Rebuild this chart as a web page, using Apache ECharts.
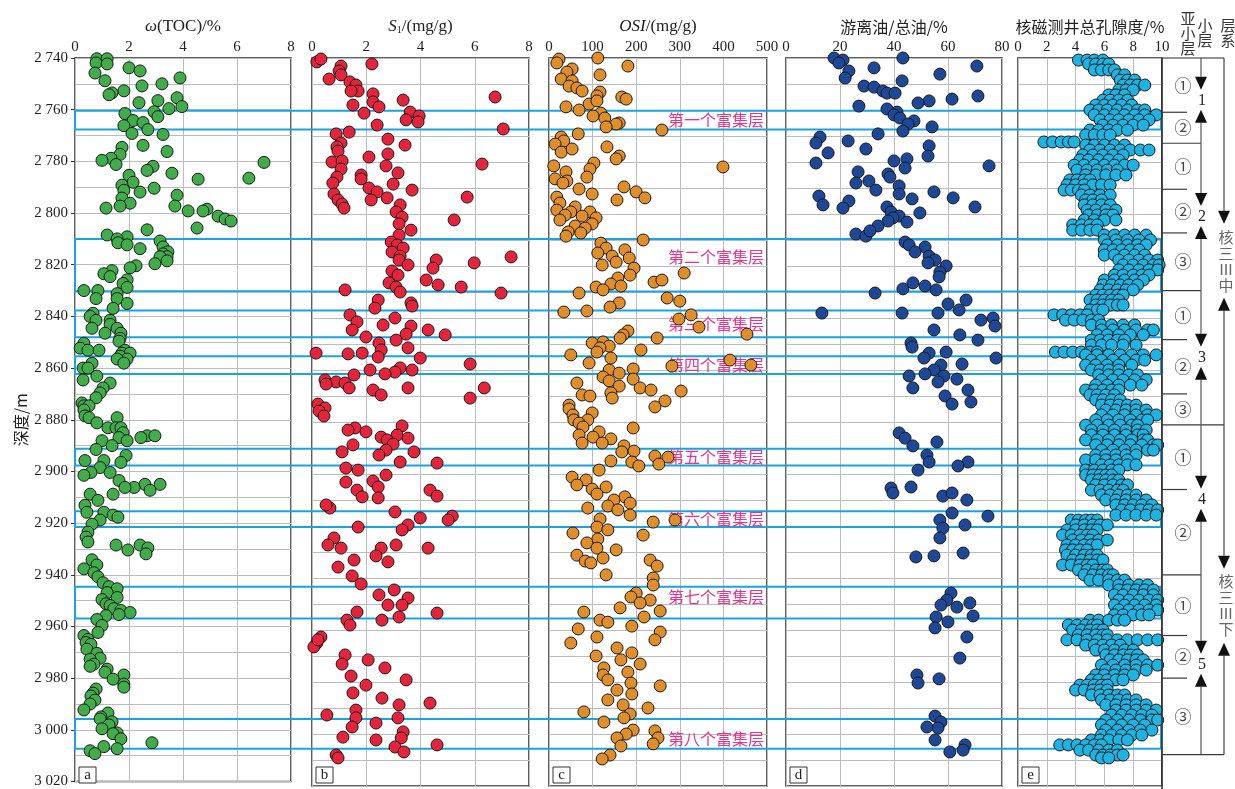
<!DOCTYPE html>
<html>
<head>
<meta charset="utf-8">
<script src="https://cdn.jsdelivr.net/npm/echarts@6/dist/echarts.min.js"></script>
<style>
html,body{margin:0;padding:0;background:#fff;}
#chart{width:1235px;height:789px;}
</style>
</head>
<body>
<div id="chart"></div>
<script>
// ---- well log data: [value, depth(m)] ----
const tocPoints = [[0.81,2740.3],[1.19,2740.3],[0.78,2741.9],[1.19,2742.3],[2.0,2743.8],[2.41,2745.0],[0.74,2745.8],[3.89,2747.7],[1.11,2748.8],[3.22,2750.0],[2.48,2750.8],[1.81,2752.7],[1.37,2753.5],[1.26,2754.2],[3.78,2755.4],[3.07,2756.5],[2.37,2757.3],[3.96,2758.8],[3.48,2759.6],[2.93,2760.8],[1.85,2761.5],[3.07,2762.7],[2.15,2764.2],[2.52,2765.0],[1.81,2766.2],[2.70,2767.7],[2.11,2769.2],[3.26,2769.6],[2.52,2773.8],[1.74,2774.6],[3.41,2776.2],[1.67,2777.3],[1.33,2778.8],[1.0,2779.6],[7.0,2780.4],[1.52,2781.2],[2.89,2781.9],[2.67,2783.5],[3.59,2784.6],[2.0,2785.4],[4.56,2786.9],[6.44,2786.5],[2.15,2788.1],[1.74,2789.2],[2.93,2790.4],[1.81,2791.2],[2.41,2791.9],[3.78,2793.1],[1.74,2794.2],
[2.04,2796.2],[1.67,2797.3],[3.70,2797.3],[1.15,2798.1],[4.89,2798.5],[4.19,2799.2],[4.74,2799.2],[5.30,2801.2],[5.56,2802.3],[5.78,2803.1],[4.52,2805.8],[2.67,2806.5],[1.19,2808.5],[1.93,2809.2],[1.56,2810.0],[3.15,2810.8],[1.59,2811.5],[1.93,2812.3],[3.26,2813.1],[2.41,2813.8],[3.44,2815.0],[3.26,2815.8],[3.41,2816.9],[3.15,2816.9],[3.41,2818.5],[2.96,2819.6],[2.26,2820.4],[2.04,2821.2],[1.37,2822.3],[1.07,2823.5],[1.30,2824.6],[1.93,2825.8],[1.78,2827.3],[1.93,2828.8],[0.33,2830.0],[0.85,2830.0],[1.56,2831.2],[0.78,2833.1],[1.56,2833.1],[1.93,2835.0],[1.41,2836.9],[0.67,2838.8],[0.56,2840.0],[0.78,2841.5],[1.30,2841.5],[1.30,2843.1],[0.63,2844.6],[1.56,2844.6],[1.70,2846.5],[1.11,2846.5],[1.67,2848.5],[1.63,2849.6],[0.33,2850.4],[0.19,2852.3],[0.48,2853.1],[0.89,2853.1],[1.85,2853.1],[1.74,2854.2],[2.04,2854.2],[1.67,2855.4],[1.93,2856.5],[1.56,2856.5],[0.63,2858.1],[1.81,2858.1],[0.30,2860.0],[0.48,2860.0],[0.81,2863.1],[0.30,2864.6],[1.30,2865.8],[1.04,2867.7],[0.93,2869.6],[0.78,2871.5],[0.26,2873.5],[0.33,2874.6],[0.52,2874.6],[0.33,2876.2],[0.37,2878.5],[0.52,2879.2],[1.56,2879.2],[0.81,2881.2],[1.22,2883.1],[1.52,2883.1],[1.70,2883.1],[1.78,2885.0],[2.67,2886.2],[2.96,2886.2],[2.44,2886.9],[1.63,2886.9],[1.93,2888.1],[1.0,2888.1],[1.37,2890.0],[0.78,2891.5],[1.89,2893.8],[0.37,2895.8],[1.07,2895.8],[1.70,2896.5],[0.93,2898.5],[0.59,2900.4],[1.30,2900.4],[0.33,2901.5],[1.63,2903.5],[3.15,2905.0],[2.59,2905.0],[2.19,2906.2],[1.85,2906.2],[2.78,2907.3],[0.56,2908.8],[1.41,2908.8],[0.85,2911.2],[0.37,2913.1],[1.07,2915.8],[0.44,2915.8],[1.41,2916.9],[1.59,2917.7],[0.93,2918.8],[0.63,2920.4],[0.48,2923.5],[0.41,2925.4],[0.48,2927.3],[1.52,2928.5],[2.41,2928.5],[2.70,2929.6],[1.96,2930.4],[2.63,2931.9],[0.63,2934.2],[0.81,2936.2],[0.33,2937.7],[0.70,2939.2],[0.85,2940.8],[1.04,2943.1],[1.26,2944.6],[1.56,2945.4],[1.19,2946.9],
[1.56,2948.8],[1.0,2949.6],[1.15,2951.2],[1.30,2951.9],[1.44,2953.1],[1.70,2953.8],[2.04,2954.6],[1.63,2955.4],[1.15,2955.8],[0.81,2957.3],[1.0,2959.6],[0.85,2962.3],[0.33,2963.5],[0.48,2965.0],[0.41,2966.2],[0.59,2966.9],[0.44,2968.8],[0.81,2970.4],[0.93,2972.3],[0.56,2972.7],[0.70,2974.6],[0.56,2975.4],[1.19,2976.5],[1.11,2977.7],[1.81,2978.8],[1.41,2980.4],[1.81,2982.3],[1.81,2983.5],[0.78,2984.2],[0.67,2985.8],[0.59,2986.9],[0.74,2988.5],[0.56,2990.0],[0.33,2992.3],[1.22,2993.5],[0.96,2995.0],[0.93,2995.8],[1.37,2996.9],[1.26,2998.1],[1.0,2999.6],[1.56,3001.2],[1.41,3001.5],[1.70,3003.5],[2.85,3005.0],[1.07,3006.5],[1.56,3007.3],[0.56,3008.1],[0.74,3009.2]];

const s1Points = [[0.18,2741.5],[0.33,2740.4],[1.07,2743.1],[2.21,2742.3],[1.0,2745.0],[1.07,2746.5],[0.63,2748.1],[1.40,2749.2],[1.62,2750.4],[1.70,2752.7],[1.44,2752.7],[2.25,2753.8],[2.25,2756.9],[3.36,2756.2],[6.75,2755.0],[1.51,2758.1],[2.47,2758.8],[3.62,2760.8],[1.92,2761.2],[3.95,2762.3],[3.47,2763.8],[3.91,2764.6],[2.40,2765.8],[7.05,2767.3],[1.37,2768.5],[0.89,2769.2],[2.80,2771.2],[1.07,2772.7],[3.43,2773.5],[0.92,2774.2],[0.96,2775.8],[2.10,2778.1],[2.80,2776.9],[0.74,2780.0],[1.11,2779.6],[6.27,2780.8],[2.73,2781.5],[1.07,2782.7],[3.17,2784.2],[1.81,2785.0],[1.81,2786.5],[0.92,2785.8],[0.77,2788.1],[2.99,2788.5],[2.10,2790.0],[3.69,2790.8],[2.40,2791.5],[0.81,2792.3],[5.72,2793.5],[2.77,2793.8],[0.96,2794.6],
[1.11,2796.2],[1.18,2797.7],[2.18,2794.6],[3.25,2796.5],[3.10,2799.2],[3.32,2801.2],[5.24,2802.3],[3.21,2803.8],[3.65,2806.2],[3.21,2808.1],[2.92,2810.8],[3.14,2811.9],[3.36,2813.1],[2.95,2814.6],[3.25,2816.2],[7.34,2816.5],[3.21,2817.7],[4.58,2817.7],[5.98,2818.8],[3.54,2819.6],[4.46,2820.8],[2.95,2821.9],[3.17,2823.5],[4.21,2825.4],[2.84,2826.5],[4.65,2827.3],[5.50,2828.1],[3.10,2828.1],[1.22,2829.2],[3.25,2830.0],[6.97,2830.4],[2.44,2833.1],[3.65,2834.2],[2.32,2836.2],[3.69,2835.4],[1.40,2838.8],[3.06,2840.0],[1.66,2841.5],[2.62,2842.7],[3.65,2843.1],[1.48,2844.6],[4.28,2844.6],[3.47,2846.2],[4.91,2846.5],[1.99,2847.3],[3.10,2848.5],[2.47,2849.6],[0.15,2853.5],[2.55,2852.3],[1.33,2853.8],[1.85,2853.5],[3.54,2851.5],[2.44,2855.0],[3.99,2855.4],[5.83,2857.7],[3.25,2859.2],[3.06,2860.8],[2.14,2860.0],[3.69,2860.0],[2.69,2861.5],[1.55,2861.9],[0.48,2863.8],[0.89,2864.6],[1.22,2865.0],[0.52,2865.4],[6.35,2866.9],[3.54,2866.9],[1.37,2866.9],[5.83,2870.8],[2.25,2867.7],[2.55,2869.6],[0.22,2873.1],[0.48,2874.6],[0.26,2875.8],[0.44,2877.7],[1.59,2882.3],[1.99,2883.8],[1.33,2883.1],[3.32,2881.5],[3.14,2885.0],[2.55,2885.8],[3.54,2886.2],[2.77,2886.9],[1.51,2888.8],[2.99,2888.5],[2.73,2890.8],[3.76,2891.5],[1.11,2891.5],[2.47,2892.7],[4.61,2895.8],[3.25,2895.4],[1.25,2897.7],[1.70,2898.5],[2.73,2900.4],[1.25,2903.1],[2.25,2902.7],[2.44,2905.0],[1.66,2906.2],[4.35,2906.2],[4.61,2908.5],[1.85,2908.8],[2.44,2909.2],[0.66,2913.1],[0.52,2911.9],[3.06,2914.6],[3.99,2916.9],[5.17,2916.2],[5.02,2917.7],[3.54,2919.6],[3.32,2921.5],[1.70,2920.4],[0.81,2924.6],[0.59,2927.3],[1.07,2928.5],[2.55,2928.5],[3.10,2927.3],[4.28,2928.5],[2.36,2931.5],[1.55,2933.1],[2.80,2933.8],[0.96,2935.8],[1.48,2939.2],[1.81,2942.3],[3.03,2944.6],[2.47,2946.5],[3.54,2947.7],[2.80,2950.4],[3.32,2950.4],[4.61,2953.5],[1.66,2953.1],[3.21,2955.0],[2.58,2956.2],[1.29,2956.2],[1.40,2958.1],[0.33,2962.7],[0.18,2965.0],[0.07,2966.5],[0.22,2963.8],[1.22,2969.6],[2.07,2971.5],[1.11,2973.1],[2.69,2974.6],[1.44,2977.7],[3.47,2979.2],[1.99,2981.2],[1.51,2984.2],[2.58,2986.2],[3.21,2988.8],[1.62,2990.8],[4.35,2988.1],[0.55,2992.7],[1.62,2993.8],[3.17,2993.8],[2.36,2995.8],[1.48,2997.3],[3.36,2999.2],[1.14,3001.2],[3.29,3001.5],[2.36,3002.3],[4.61,3004.2],[3.06,3005.0],[3.39,3006.9],[0.89,3008.1],[0.96,3009.2]];

const osiPoints = [[23,2740.4],[112,2740.0],[18,2741.9],[181,2743.1],[53,2744.2],[41,2745.4],[117,2746.5],[28,2748.1],[53,2748.8],[46,2750.8],[64,2751.5],[76,2752.7],[117,2753.1],[110,2754.6],[167,2755.0],[177,2755.8],[92,2757.7],[110,2756.5],[39,2758.8],[69,2760.0],[119,2761.2],[101,2762.3],[128,2763.1],[161,2765.0],[154,2765.4],[131,2766.5],[259,2767.7],[67,2769.2],[28,2770.4],[34,2771.9],[14,2773.1],[28,2776.2],[53,2775.0],[133,2774.2],[161,2777.7],[154,2778.8],[103,2780.4],[399,2781.9],[11,2781.5],[39,2783.8],[94,2782.7],[87,2785.8],[14,2786.5],[41,2787.3],[32,2788.1],[172,2789.6],[200,2791.5],[69,2790.4],[99,2792.3],[18,2793.5],[220,2793.8],[156,2794.6],
[25,2795.8],[60,2797.3],[18,2798.5],[50,2799.2],[94,2799.2],[37,2800.4],[76,2800.8],[108,2801.5],[25,2802.3],[99,2803.8],[60,2804.6],[83,2805.4],[44,2806.9],[73,2807.3],[39,2808.5],[119,2811.2],[216,2810.0],[131,2813.1],[174,2813.8],[112,2815.0],[145,2816.2],[184,2816.9],[154,2818.5],[122,2819.6],[195,2820.8],[310,2822.7],[186,2823.5],[158,2824.6],
[241,2826.2],[259,2825.4],[142,2826.9],[165,2827.7],[108,2828.1],[124,2829.2],[69,2830.4],[271,2832.3],[300,2833.5],[161,2834.2],[140,2835.8],[87,2837.3],[34,2837.7],[326,2838.8],[298,2840.4],[344,2843.5],[454,2846.2],[181,2845.0],[170,2846.5],[163,2847.7],[248,2847.7],[124,2849.2],[99,2849.6],[138,2850.8],[117,2851.5],[211,2852.3],[110,2853.1],[50,2854.2],[142,2855.4],[415,2856.2],[92,2857.3],[463,2858.1],[282,2858.5],[193,2859.6],[138,2860.0],[161,2861.2],[124,2862.7],[193,2863.5],[138,2864.2],[64,2865.0],[161,2866.2],[209,2866.9],[234,2867.7],[303,2868.1],[142,2868.8],[76,2869.6],[94,2870.0],[145,2870.8],[266,2871.9],[243,2874.2],[46,2873.5],[46,2875.0],[99,2876.5],[55,2877.3],[57,2879.2],[89,2879.2],[69,2880.4],[78,2881.9],[193,2882.3],[115,2883.8],[69,2885.0],[101,2885.8],[142,2886.5],[122,2888.1],[76,2888.1],[172,2889.2],[195,2891.2],[167,2891.5],[243,2893.1],[273,2893.5],[142,2895.0],[190,2895.4],[252,2896.2],[206,2896.9],[115,2898.5],[53,2901.2],[85,2902.3],
[64,2904.2],[99,2905.8],[131,2905.0],[110,2907.7],[174,2908.8],[149,2910.0],[186,2911.2],[135,2912.3],[89,2913.1],[158,2913.8],[186,2915.8],[117,2917.3],[289,2917.7],[239,2918.5],[110,2920.4],[135,2921.5],[55,2922.7],[216,2923.5],[112,2925.0],[87,2926.5],[110,2928.5],[154,2929.2],[64,2931.2],[124,2932.3],[83,2933.5],[232,2933.1],[96,2934.2],[248,2935.4],[131,2938.8],[239,2940.0],[239,2942.7],[200,2945.8],[188,2947.3],[232,2948.5],[209,2949.6],[163,2951.5],[255,2952.7],[80,2953.1],[218,2955.0],[117,2956.2],[135,2957.0],[190,2958.5],[67,2959.6],[255,2960.8],[243,2963.8],[110,2962.7],[50,2965.0],[156,2966.9],[190,2968.8],[108,2970.0],[165,2971.5],[209,2973.1],[126,2974.6],[181,2976.2],[124,2977.3],[135,2979.2],[188,2980.4],[255,2981.5],[156,2983.1],[190,2984.6],[135,2986.9],[170,2988.8],[227,2990.0],[186,2992.3],[172,2993.8],[80,2991.5],[126,2995.4],[193,2998.5],[243,2998.8],[177,3000.0],[156,3001.5],[250,3001.5],[239,3003.8],[165,3004.6],[140,3008.1],[122,3009.6]];

const freeOilPoints = [[17.8,2740.0],[21.1,2740.8],[43.3,2740.0],[19.6,2741.9],[23.3,2745.0],[21.9,2747.7],[32.6,2743.8],[70.7,2743.1],[57.0,2746.2],[43.0,2748.8],[28.9,2750.8],[32.6,2751.2],[35.9,2752.7],[37.4,2753.5],[40.4,2753.5],[71.1,2754.6],[61.5,2755.8],[53.0,2756.5],[48.9,2757.3],[27.0,2758.5],[37.4,2759.6],[41.1,2760.8],[40.0,2761.9],[42.2,2763.1],[47.4,2764.2],[45.2,2765.4],[54.1,2766.5],[43.3,2768.1],[12.6,2770.4],[11.1,2772.7],[34.1,2769.2],[23.0,2771.9],[53.0,2773.8],[29.6,2775.0],[15.6,2776.5],[52.6,2777.7],[44.8,2778.8],[40.0,2779.6],[11.1,2780.4],[75.2,2781.5],[44.1,2782.3],[26.7,2783.8],[37.8,2784.6],[38.5,2785.8],[30.7,2787.3],[25.9,2788.1],[41.9,2789.2],[33.3,2790.8],[54.8,2791.5],[41.9,2792.3],[12.2,2793.1],[61.9,2793.8],[46.7,2794.2],[23.3,2795.0],
[13.7,2796.5],[21.1,2797.7],[37.4,2797.3],[70.0,2797.3],[38.9,2799.2],[41.9,2800.8],[49.6,2799.6],[39.6,2801.5],[37.8,2802.7],[44.8,2803.1],[34.1,2804.6],[25.9,2807.7],[29.6,2808.5],[31.1,2806.5],[44.1,2810.8],[45.6,2811.9],[51.5,2812.7],[47.8,2814.6],[53.0,2816.2],[55.2,2817.7],[52.6,2818.8],[59.3,2820.0],[57.0,2822.3],[56.7,2824.2],[47.0,2826.5],[51.5,2827.7],[43.3,2828.8],[55.6,2829.2],[33.0,2830.4],[66.7,2833.1],[60.0,2834.6],[64.1,2836.9],[56.3,2838.1],[13.3,2838.1],[43.0,2838.1],[76.7,2840.0],[77.4,2843.1],[72.2,2840.8],[54.8,2844.6],[64.4,2846.5],[71.1,2848.5],[46.3,2849.6],[46.7,2851.2],[59.3,2853.1],[53.0,2853.5],[77.8,2855.4],[51.1,2855.4],[65.2,2857.7],[57.4,2858.1],[54.8,2860.0],[51.5,2861.5],[58.5,2862.3],[63.3,2863.5],[56.3,2864.6],[45.6,2862.3],[47.0,2866.9],[67.4,2867.7],[58.9,2870.0],[68.5,2872.3],[61.5,2873.1],[41.9,2884.2],[44.1,2886.2],[55.9,2887.7],[47.0,2889.2],[52.2,2892.7],[67.4,2895.4],[53.0,2895.4],[63.7,2896.9],[48.9,2898.5],[38.9,2905.4],[39.6,2907.3],[46.3,2905.0],[58.1,2908.5],[61.5,2907.3],[67.0,2910.0],[61.5,2915.0],[74.8,2916.2],[57.0,2917.7],[66.3,2919.6],[58.1,2920.8],[57.0,2924.6],[48.1,2931.9],[54.8,2931.5],[65.6,2930.4],[61.1,2945.8],[59.6,2948.5],[63.3,2951.2],[57.4,2950.4],[68.1,2949.6],[55.6,2955.0],[60.0,2956.9],[69.3,2954.6],[55.2,2959.2],[67.0,2962.7],[64.4,2970.8],[48.5,2977.3],[56.7,2978.8],[48.9,2980.4],[55.2,2993.1],[57.4,2995.4],[56.3,2997.7],[52.2,2997.3],[55.2,3002.3],[66.3,3004.2],[65.6,3006.2],[60.7,3006.9]];

// NMR total porosity: [depth, readings at that depth]
const porosityRows = [[2740.8,[4.2,4.8,5.3,5.9]],[2742.3,[4.9,5.4,5.9,6.3]],[2744.6,[5.3,5.8,6.3,6.7]],[2746.5,[6.9,7.4]],[2748.5,[7.1,7.6,8.1]],[2750.4,[7.3,7.8,8.3,8.8]],[2752.3,[7.0,7.5,8.0]],[2754.2,[6.3,6.8,7.4]],[2756.2,[5.9,6.4,7.0,7.6]],[2758.1,[5.4,6.0,6.6,7.2,7.9]],[2760.0,[5.0,5.6,6.2,6.9,7.6,8.3,8.8]],[2761.9,[5.3,6.0,6.7,7.4,8.1,8.8,9.6]],[2763.8,[5.7,6.4,7.0,7.7,8.4,9.1]],[2765.8,[5.9,6.6,7.3,8.0,8.7]],[2767.7,[5.0,5.6,6.3,6.9,7.6]],[2769.6,[4.7,5.3,5.9,6.4]],[2772.3,[1.8,2.4,3.0,3.5,3.9]],[2773.5,[4.7,5.3,6.0,6.7,7.4]],[2775.4,[5.0,5.7,6.4,7.1,7.8,8.5,9.1]],[2777.3,[4.5,5.2,5.9,6.6,7.3]],[2779.2,[4.3,4.9,5.6,6.3,7.0]],[2781.2,[3.9,4.6,5.3,6.0,6.7,7.4,8.0]],[2783.1,[4.1,4.8,5.5,6.2,6.9]],[2785.0,[4.7,5.4,6.1,6.8,7.5]],[2786.9,[3.6,4.1,4.6,5.0]],[2788.8,[3.4,4.0,4.6,5.2,5.8,6.4]],[2790.8,[3.2,3.7,4.2,4.6]],[2792.7,[4.4,5.0,5.7,6.4]],[2794.6,[4.7,5.2,5.8]],[2796.5,[4.6,5.2,5.8,6.4]],[2798.5,[4.8,5.4,6.1,6.8]],[2800.4,[4.9,5.5,6.1,6.6]],[2802.3,[4.6,5.3,6.0,6.8]],[2804.2,[3.8,4.4,5.0,5.5]],[2806.2,[3.8,4.4,5.0,5.5]],[2808.1,[6.0,6.7,7.4,8.1,8.9]],[2810.0,[6.0,6.8,7.6,8.4,9.2]],[2811.9,[6.2,6.9,7.6,8.3,8.9]],[2813.8,[6.0,6.6,7.2,7.8,8.4]],[2815.8,[6.0,6.7,7.4,8.1,8.8]],[2817.7,[7.0,7.7,8.4,9.1,9.7]],[2819.6,[7.3,8.0,8.7,9.4,9.8]],[2821.5,[7.0,7.7,8.4,9.1,9.7]],[2823.5,[6.7,7.3,8.0,8.6,9.1]],[2825.4,[6.0,6.7,7.4,8.1,8.7]],[2827.3,[5.9,6.5,7.1,7.7,8.3]],[2829.2,[5.7,6.3,6.9,7.5,8.0]],[2831.2,[5.4,5.9,6.4,6.9,7.3]],[2833.1,[5.0,5.5,6.0,6.5,7.0]],[2835.0,[5.4,5.9,6.4,6.9,7.3]],[2836.9,[5.0,5.5,5.9]],[2838.8,[2.5,3.1,3.7,4.3,4.8]],[2840.8,[3.3,3.9,4.5,5.1,5.6]],[2842.7,[5.1,5.8,6.5,7.3,8.1]],[2844.6,[5.8,6.6,7.4,8.2,9.0,9.4]],[2846.5,[5.5,6.2,7.0,7.8,8.7]],[2848.5,[5.1,5.7,6.3,6.9,7.4]],[2850.4,[5.1,5.8,6.5,7.3,8.2]],[2853.1,[2.6,3.2,3.8,4.4,5.0,5.5]],[2854.2,[4.7,5.5,6.3,7.1,7.9,8.7,9.6]],[2856.2,[5.1,5.8,6.6,7.4,8.2,8.8]],[2858.1,[4.7,5.4,6.2,7.0,7.9]],[2860.0,[5.1,5.7,6.3,7.0]],[2861.9,[5.6,6.3,7.0,7.7,8.3]],[2863.8,[5.8,6.6,7.3,8.1,8.9]],[2865.8,[5.4,6.2,7.0,7.8,8.6]],[2867.7,[4.7,5.3,5.9,6.5,7.0]],[2869.6,[5.0,5.5,6.1,6.7]],[2871.5,[5.4,5.9,6.5,7.1]],[2873.5,[5.8,6.4,7.0,7.6,8.2]],[2875.4,[6.1,6.8,7.5,8.2,8.9]],[2877.3,[5.8,6.6,7.4,8.2,9.0,9.6]],[2879.2,[5.4,6.2,7.0,7.8,8.6,9.0]],[2881.2,[4.7,5.5,6.3,7.1,7.9,8.3]],[2883.1,[5.1,5.9,6.7,7.5,8.3,8.9]],[2885.0,[5.1,5.9,6.7,7.5,8.3,8.7]],[2886.9,[4.7,5.5,6.3,7.1,7.9,8.7,9.0]],[2888.8,[5.4,6.2,7.0,7.8,8.6,9.4,9.7]],[2890.8,[5.8,6.6,7.4,8.2,9.0,9.4]],[2892.7,[5.4,6.1,6.8,7.5,8.2]],[2894.6,[4.7,5.4,6.1,6.8,7.6]],[2896.5,[5.8,6.4,7.0,7.6,8.2]],[2898.5,[4.7,5.3,5.9,6.5,7.0]],[2900.4,[4.7,5.2,5.7,6.1,6.5]],[2902.3,[5.1,5.6,6.1,6.6,7.0]],[2904.2,[5.4,6.0,6.6,7.2,7.6]],[2906.2,[5.1,5.7,6.3,6.9,7.3]],[2908.1,[5.8,6.4,7.0,7.6,8.2]],[2910.0,[6.1,6.8,7.5,8.2,8.9]],[2911.9,[6.8,7.4,8.0,8.6,9.3]],[2913.8,[7.2,7.8,8.5,9.1,9.7]],[2915.8,[6.8,7.5,8.2,8.9,9.6]],[2917.7,[3.7,4.2,4.7,5.1,5.5]],[2919.6,[4.0,4.6,5.2,5.7,6.2]],[2921.5,[3.4,4.0,4.6,5.1,5.5]],[2923.5,[3.1,3.7,4.3,4.8,5.2]],[2925.4,[3.8,4.4,5.0,5.6,6.2]],[2927.3,[3.4,4.0,4.6,5.1,5.5]],[2929.2,[3.3,3.8,4.3,4.8]],[2931.2,[3.4,4.0,4.6,5.1,5.5]],[2933.1,[3.8,4.4,5.0,5.5,5.9]],[2935.0,[3.1,3.7,4.3,4.8,5.2]],[2936.9,[4.2,4.8,5.4,5.9,6.2]],[2938.8,[4.6,5.2,5.8,6.3,6.6]],[2940.8,[5.0,5.6,6.3,6.9,7.4]],[2942.7,[6.3,7.0,7.7,8.4,9.0]],[2944.6,[7.0,7.6,8.2,8.8,9.4]],[2946.5,[6.7,7.3,8.0,8.7,9.4]],[2948.5,[7.0,7.7,8.4,9.1,9.7]],[2950.4,[6.7,7.4,8.1,8.8,9.6]],[2952.3,[7.0,7.7,8.4,9.1,9.7]],[2954.2,[6.7,7.3,8.0,8.6,9.1]],[2956.2,[5.0,5.6,6.3,6.9,7.4]],[2958.1,[3.5,4.1,4.7,5.2,5.5]],[2960.0,[3.8,4.4,5.0,5.5,5.9]],[2961.9,[4.2,4.8,5.4,5.9,6.2]],[2963.8,[3.4,4.1,4.8,5.5,6.2,6.9,7.6,8.3,9.0,9.7]],[2965.8,[4.7,5.3,5.9,6.5,7.1]],[2967.7,[5.4,6.0,6.7,7.4,8.0]],[2969.6,[6.1,6.7,7.3,7.8,8.3]],[2971.5,[6.4,7.0,7.6,8.2,8.7]],[2973.5,[5.8,6.6,7.4,8.2,9.0,9.7]],[2975.4,[6.1,6.8,7.5,8.2,8.9]],[2977.3,[5.4,6.0,6.7,7.4,8.0]],[2979.2,[5.1,5.6,6.2,6.8,7.3]],[2981.2,[4.3,4.8,5.3,5.8,6.2]],[2983.1,[4.0,4.6,5.2,5.7,6.2]],[2985.0,[5.1,5.7,6.3,6.9,7.4]],[2986.9,[5.8,6.4,7.0,7.6,8.2]],[2988.8,[6.1,6.8,7.5,8.2,8.9]],[2990.8,[6.8,7.5,8.2,8.9,9.6]],[2992.7,[6.5,7.2,7.9,8.6,9.3]],[2994.6,[6.1,6.9,7.7,8.5,9.3,9.7]],[2996.5,[5.8,6.5,7.2,8.0,8.8]],[2998.5,[6.1,6.9,7.7,8.5,9.3]],[3000.4,[5.8,6.5,7.2,7.9,8.6]],[3002.3,[5.1,5.7,6.3,7.0,7.6]],[3004.2,[2.9,3.5,4.1,4.7,5.3,5.8]],[3006.2,[4.3,4.9,5.6,6.3,6.9]],[3008.1,[5.4,5.9,6.4,6.9,7.3]],[3009.2,[5.8,6.3]]];

// oil-rich intervals: [top, bottom, label depth, label]
const richZones = [
  [2760.4, 2767.7, 2764.0, '第一个富集层'],
  [2810.0, 2830.4, 2816.9, '第二个富集层'],
  [2837.7, 2848.1, 2843.0, '第三个富集层'],
  [2855.4, 2862.3, 2858.8, '第四个富集层'],
  [2891.2, 2897.7, 2894.4, '第五个富集层'],
  [2915.4, 2921.5, 2918.5, '第六个富集层'],
  [2944.6, 2956.9, 2948.5, '第七个富集层'],
  [2995.8, 3007.3, 3003.5, '第八个富集层']
];

// stratigraphy: sub-layers [layer, label, top, bottom]
const subLayers = [
  [1,'①',2740,2761],[1,'②',2761,2773],
  [2,'①',2773,2790.8],[2,'②',2790.8,2807.7],[2,'③',2807.7,2830],
  [3,'①',2830,2849],[3,'②',2849,2870],[3,'③',2870,2882],
  [4,'①',2882,2907],[4,'②',2907,2940],
  [5,'①',2940,2963.5],[5,'②',2963.5,2980],[5,'③',2980,3009.6]
];
const layers = [['1',2740,2773],['2',2773,2830],['3',2830,2882],['4',2882,2940],['5',2940,3009.6]];
const systems = [['核三Ⅲ中',2740,2882,2818.5],['核三Ⅲ下',2882,3009.6,2952]];

const depthMin = 2740, depthMax = 3020;

const SERIF = '"Liberation Serif","Times New Roman","DejaVu Serif",serif';
const CJK = '"Noto Sans CJK SC","Noto Sans",sans-serif';
const GRID_TOP = 58, GRID_H = 728;

const panels = [
  {left:75, width:216, min:0, max:8, interval:2, data:tocPoints, color:'#40ad4a', tag:'a',
   name:'{i|ω}{n|(TOC)/%}'},
  {left:312, width:217, min:0, max:8, interval:2, data:s1Points, color:'#e5243b', tag:'b',
   name:'{i|S}{sub|1}{n|/(mg/g)}'},
  {left:549, width:218, min:0, max:500, interval:100, data:osiPoints, color:'#e08e29', tag:'c',
   name:'{i|OSI}{n|/(mg/g)}'},
  {left:786, width:216, min:0, max:80, interval:20, data:freeOilPoints, color:'#1c4897', tag:'d',
   name:'{c|游离油/总油/%}'},
  {left:1018, width:144, min:0, max:10, interval:2,
   data:porosityRows.flatMap(r => r[1].map(v => [v, r[0]])), color:'#1db3e3', tag:'e',
   name:'{c|核磁测井总孔隙度/%}'}
];

const nameRich = {
  i:{fontFamily:SERIF, fontStyle:'italic', fontSize:17, color:'#222'},
  n:{fontFamily:SERIF, fontSize:17, color:'#222'},
  sub:{fontFamily:SERIF, fontSize:10, color:'#222', verticalAlign:'bottom', padding:[8,0,0,0]},
  c:{fontFamily:CJK, fontSize:16, color:'#222'}
};
const gridLine = {color:'#bcbcbc', width:1};
const fmtDepth = v => String(v).replace(/^(\d)(\d{3})$/, '$1 $2');

const chart = echarts.init(document.getElementById('chart'), null, {renderer:'canvas'});

const option = {
  animation:false,
  backgroundColor:'#fff',
  grid: panels.map(p => ({left:p.left, top:GRID_TOP, width:p.width, height:GRID_H,
    show:true, borderColor:'#2b2b2b', borderWidth:1.5, backgroundColor:'transparent'})),
  xAxis: panels.map((p,i) => ({
    gridIndex:i, type:'value', position:'top', min:p.min, max:p.max, interval:p.interval,
    axisLine:{show:false}, axisTick:{show:false},
    axisLabel:{fontFamily:SERIF, fontSize:15, color:'#222', margin:3},
    splitLine:{show:true, lineStyle:gridLine},
    name:p.name, nameLocation:'middle', nameGap:21,
    nameTextStyle:{rich:nameRich}
  })),
  yAxis: panels.map((p,i) => ({
    gridIndex:i, type:'value', inverse:true, min:depthMin, max:depthMax, interval:20,
    axisLine:{show:false},
    axisTick:{show:i===0, length:4, inside:false, lineStyle:{color:'#333'}},
    axisLabel:{show:i===0, fontFamily:SERIF, fontSize:15, color:'#222', margin:7, formatter:fmtDepth},
    splitLine:{show:true, lineStyle:gridLine},
    minorTick:{show:false, splitNumber:2},
    minorSplitLine:{show:true, lineStyle:gridLine},
    name: i===0 ? '深度/m' : '', nameLocation:'middle', nameGap:46, nameRotate:90,
    nameTextStyle:{fontFamily:CJK, fontSize:16, color:'#222'}
  })),
  series: panels.map((p,i) => ({
    type:'scatter', xAxisIndex:i, yAxisIndex:i, data:p.data, symbol:'circle', symbolSize:12,
    clip:false, z:3, silent:true,
    itemStyle:{color:p.color, borderColor:'#1a1a1a', borderWidth:1, opacity:1}
  }))
};
chart.setOption(option);

// ---- overlays positioned through the depth axis ----
const yOf = d => chart.convertToPixel({yAxisIndex:0}, d);
const xOf = (i, v) => chart.convertToPixel({xAxisIndex:i}, v);
const g = [];
const BLUE = '#1ba3df', MAGENTA = '#e4348c', INK = '#3a3a3a';
const bandLeft = xOf(0, panels[0].min), bandRight = xOf(4, panels[4].max) - 1;
const labelRight = xOf(2, panels[2].max) - 3;

richZones.forEach(z => {
  const y1 = yOf(z[0]), y2 = yOf(z[1]);
  g.push({type:'rect', z:2, silent:true, shape:{x:bandLeft, y:y1, width:bandRight-bandLeft, height:y2-y1},
    style:{fill:'none', stroke:BLUE, lineWidth:2}});
  g.push({type:'text', z:2, silent:true, x:labelRight, y:yOf(z[2]),
    style:{text:z[3], font:'16px ' + CJK, fill:MAGENTA, align:'right', verticalAlign:'middle'}});
});

// panel tags a-e
panels.forEach(p => {
  const bx = p.left + 4, by = GRID_TOP + GRID_H - 19;
  g.push({type:'rect', z:4, silent:true, shape:{x:bx, y:by, width:17, height:16},
    style:{fill:'#fff', stroke:'#333', lineWidth:1}});
  g.push({type:'text', z:5, silent:true, x:bx+8.5, y:by+8,
    style:{text:p.tag, font:'15px ' + SERIF, fill:'#222', align:'center', verticalAlign:'middle'}});
});

// stratigraphic column
const X0 = xOf(4, panels[4].max), XSUB = 1187, XLAYER = 1201, XSYS = 1224;
const line = (x1,y1,x2,y2,color,w) => g.push({type:'line', z:4, silent:true,
  shape:{x1,y1,x2,y2}, style:{stroke:color||INK, lineWidth:w||1.2}});
const arrow = (x, tip, dir) => g.push({type:'polygon', z:4, silent:true,
  shape:{points: dir>0 ? [[x-6,tip-13],[x+6,tip-13],[x,tip]] : [[x-6,tip+13],[x+6,tip+13],[x,tip]]},
  style:{fill:'#111'}});
const txt = (s,x,y,font,color) => g.push({type:'text', z:4, silent:true, x, y,
  style:{text:s, font, fill:color||'#333', align:'center', verticalAlign:'middle'}});

const yTop = yOf(depthMin);
line(X0, yTop, X0, 789, '#2b2b2b', 1.5);
line(X0, yTop, XSYS, yTop, '#2b2b2b', 1.2);

const layerBottoms = layers.map(l => l[2]);
const systemBottoms = systems.map(s => s[2]);
subLayers.forEach(s => {
  const yb = yOf(s[3]);
  if (!layerBottoms.includes(s[3])) line(X0, yb, XSUB, yb);
  txt(s[1], 1183, (yOf(s[2]) + yb) / 2, '17px ' + CJK, '#444');
});
layers.forEach(l => {
  const yt = yOf(l[1]), yb = yOf(l[2]), ym = (yt + yb) / 2;
  line(X0, yb, systemBottoms.includes(l[2]) ? XSYS : XLAYER, yb);
  line(XLAYER, yt, XLAYER, ym - 24, '#555', 1.2);
  arrow(XLAYER, ym - 11, 1);
  line(XLAYER, ym + 22, XLAYER, yb, '#555', 1.2);
  arrow(XLAYER, ym + 9, -1);
  txt(l[0], XLAYER + 1, ym, '16px ' + SERIF, '#222');
});
systems.forEach(s => {
  const yt = yOf(s[1]), yb = yOf(s[2]), ym = yOf(s[3]);
  line(XSYS, yt, XSYS, ym - 50, '#444', 1.2);
  arrow(XSYS, ym - 37, 1);
  line(XSYS, ym + 50, XSYS, yb, '#444', 1.2);
  arrow(XSYS, ym + 37, -1);
  [...s[0]].forEach((ch, k) => txt(ch, XSYS + 2, ym - 24 + k * 16, '15px ' + CJK, '#666'));
});

// column headers
[['亚',1188,18],['小',1188,33],['层',1188,48],['小',1205,25],['层',1205,40],['层',1228,25],['系',1228,40]]
  .forEach(h => txt(h[0], h[1], h[2], '15px ' + CJK, '#333'));

chart.setOption({graphic: g});
</script>
</body>
</html>
